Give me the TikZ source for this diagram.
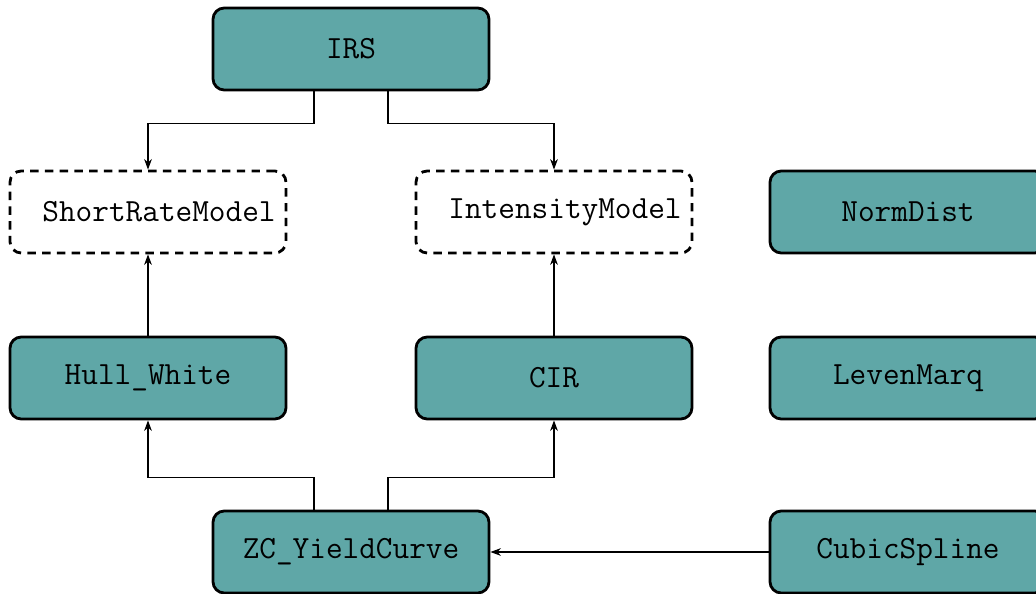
\documentclass[tikz,border=0pt]{standalone}
\usepackage{tikz}
\usetikzlibrary{arrows.meta,calc,positioning}
\usepackage{xcolor}
\definecolor{teal}{RGB}{95,167,167}

\begin{document}
\begin{tikzpicture}[>={Stealth[length=7.5pt,width=5.5pt]},line width=1.1pt,
    cls/.style={draw,line width=2pt,rounded corners=8pt,fill=teal,
      minimum width=6.9cm,minimum height=2.05cm,
      font=\ttfamily\fontsize{23}{27}\selectfont},
    iface/.style={cls,fill=none,dash pattern=on 6pt off 4.5pt,
      execute at begin node=\hspace*{0.55cm}}]
  \useasboundingbox (0,0) rectangle (25.9,-14.85);
  \node[cls]   (IRS) at (8.775,-1.225) {IRS};
  \node[iface] (SRM) at (3.7,-5.3)     {ShortRateModel};
  \node[iface] (IM)  at (13.85,-5.3)   {IntensityModel};
  \node[cls]   (ND)  at (22.7,-5.3)    {NormDist};
  \node[cls]   (HW)  at (3.7,-9.45)    {Hull\_White};
  \node[cls]   (CIR) at (13.85,-9.45)  {CIR};
  \node[cls]   (LM)  at (22.7,-9.45)   {LevenMarq};
  \node[cls]   (ZC)  at (8.775,-13.8)  {ZC\_YieldCurve};
  \node[cls]   (CS)  at (22.7,-13.8)   {CubicSpline};
  \draw[->] ([xshift=-0.925cm]IRS.south) -- ++(0,-0.8) -| (SRM.north);
  \draw[->] ([xshift=0.925cm]IRS.south) -- ++(0,-0.8) -| (IM.north);
  \draw[->] (HW) -- (SRM);
  \draw[->] (CIR) -- (IM);
  \draw[->] ([xshift=-0.925cm]ZC.north) -- ++(0,0.8) -| (HW.south);
  \draw[->] ([xshift=0.925cm]ZC.north) -- ++(0,0.8) -| (CIR.south);
  \draw[->] (CS) -- (ZC);
\end{tikzpicture}
\end{document}
